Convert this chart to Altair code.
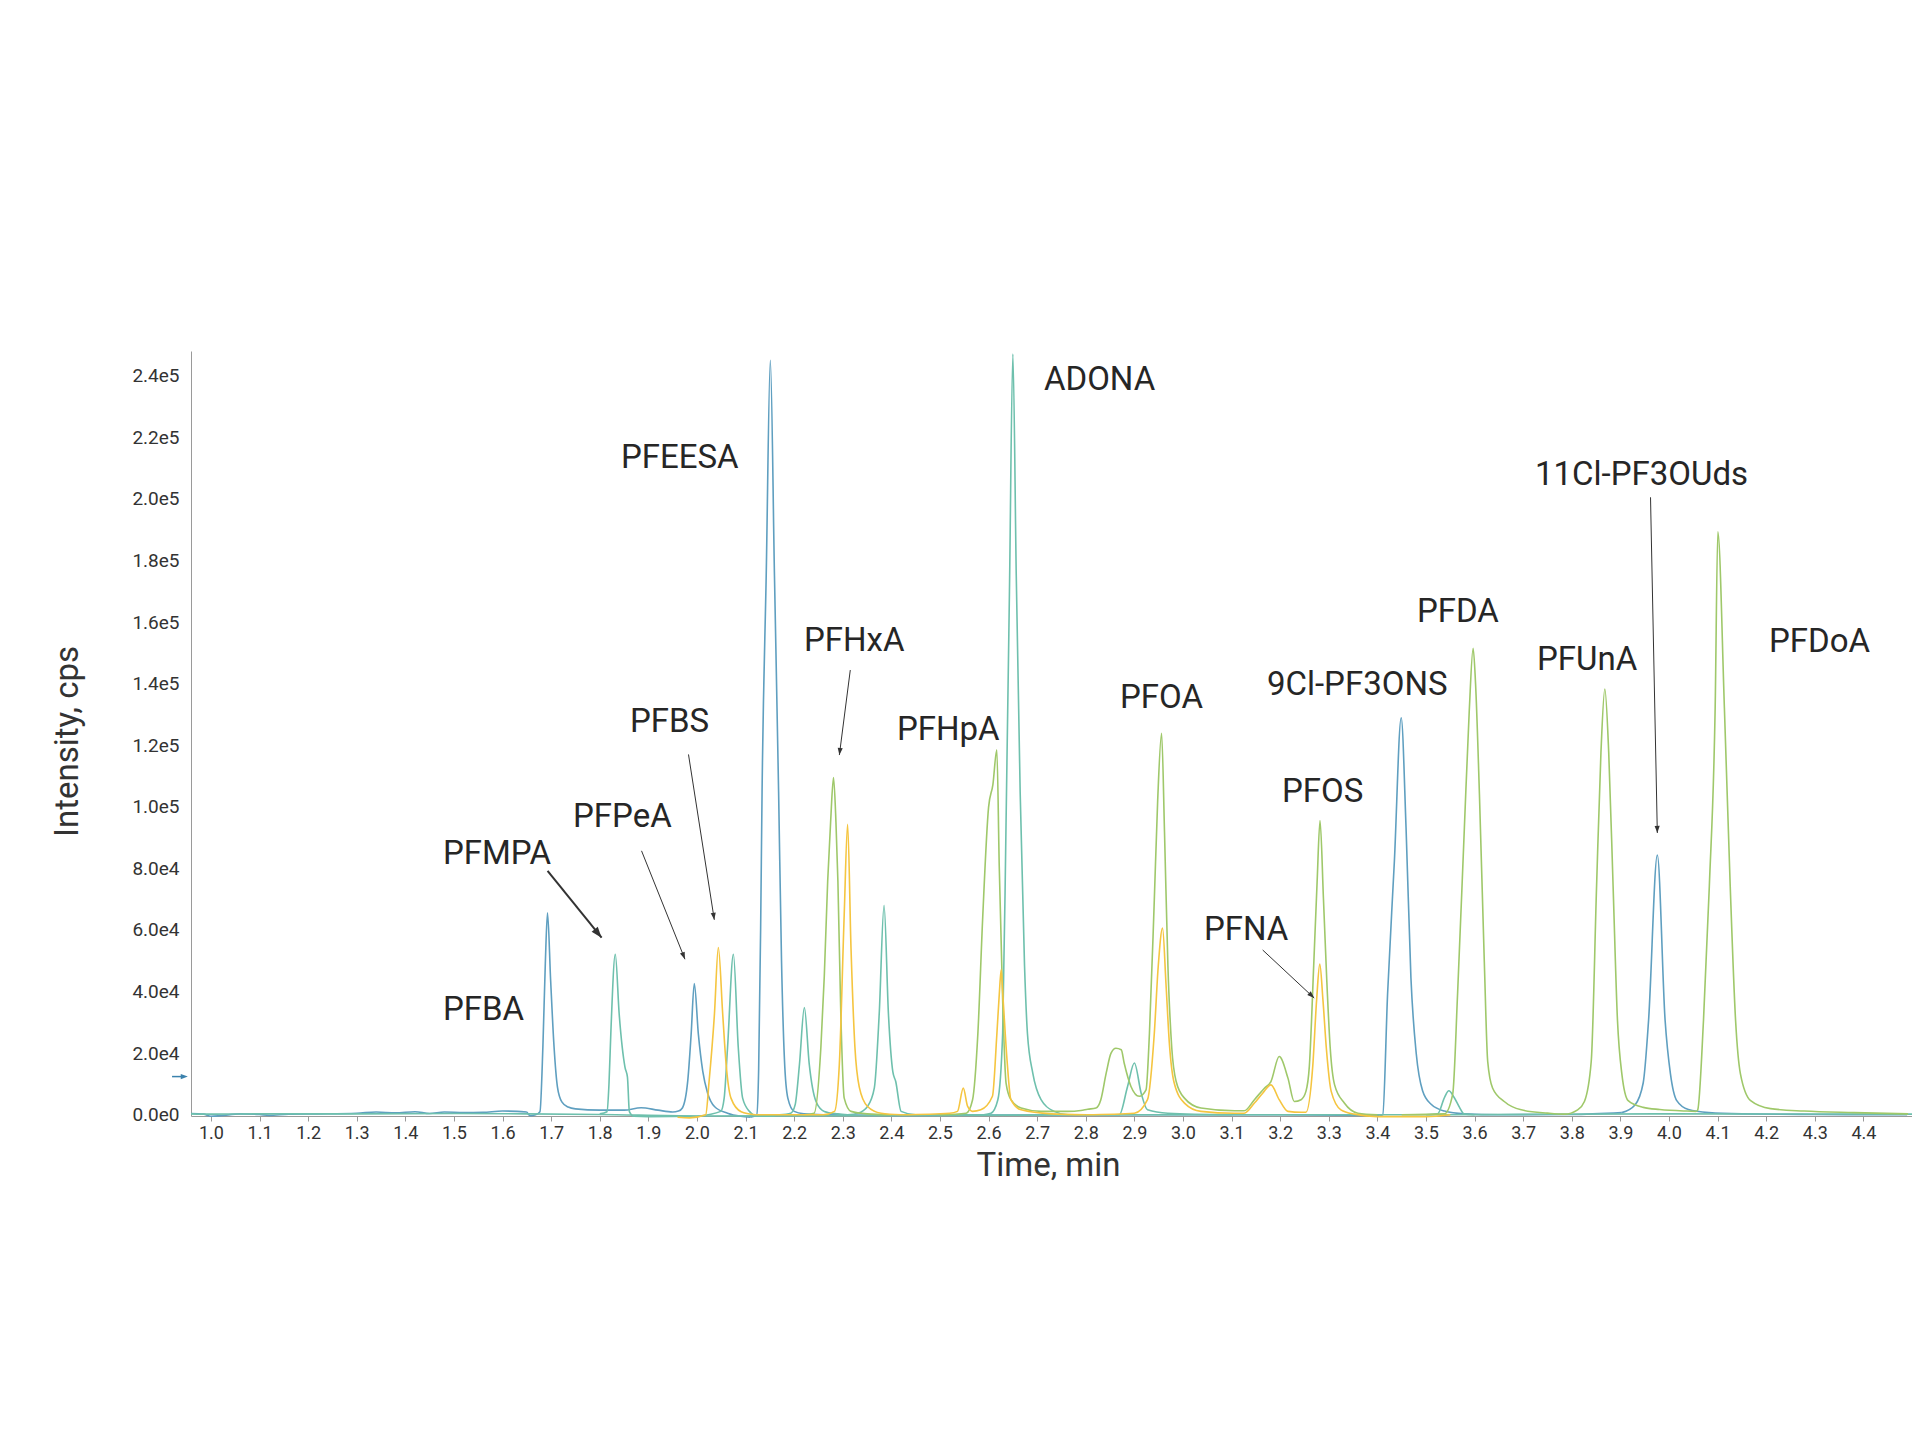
import math
import altair as alt
import pandas as pd

# ---------------- axes / layout values ----------------
X_DOMAIN = [0.959, 4.5]
Y_DOMAIN = [-400, 248000]
PLOT_W = 1721
PLOT_H = 765

X_TICKS = [1.0, 1.1, 1.2, 1.3, 1.4, 1.5, 1.6, 1.7, 1.8, 1.9,
           2.0, 2.1, 2.2, 2.3, 2.4, 2.5, 2.6, 2.7, 2.8, 2.9,
           3.0, 3.1, 3.2, 3.3, 3.4, 3.5, 3.6, 3.7, 3.8, 3.9,
           4.0, 4.1, 4.2, 4.3, 4.4]
Y_TICKS = [0, 20000, 40000, 60000, 80000, 100000, 120000, 140000,
           160000, 180000, 200000, 220000, 240000]

GROUPS = ["blue", "teal", "green", "yellow"]
GROUP_COLORS = ["#5f9fc0", "#6ec0ad", "#9fc86a", "#f5c540"]

# ---------------- chromatogram traces (time, intensity) ----------------
BLUE_BASE_T = [0.959, 0.985, 1.0, 1.02, 1.06, 1.1, 1.12, 1.16, 1.22, 1.3,
               1.34, 1.38, 1.42, 1.45, 1.48, 1.52, 1.56, 1.6, 1.63, 1.65]
BLUE_BASE_I = [400, 200, -500, -300, 300, 100, -200, 200, 300, 500,
               900, 600, 1000, 400, 900, 700, 800, 1200, 1100, 900]

BLUE_PFBA_T = [1.65, 1.657, 1.668, 1.677, 1.683, 1.688, 1.6925, 1.699, 1.706, 1.713,
               1.722, 1.735, 1.75, 1.80, 1.85, 1.885, 1.92, 1.95, 1.962, 1.970,
               1.981, 1.988, 1.9945, 2.003, 2.012, 2.022, 2.036, 2.063, 2.09, 2.11]
BLUE_PFBA_I = [900, -300, 0, 1000, 22000, 49000, 65600, 43500, 22000, 9000,
               4200, 2500, 1900, 1500, 1500, 2300, 1500, 900, 1200, 2200,
               10900, 26000, 42600, 26000, 14100, 7000, 2700, 500, -500, -800]

BLUE_PFEESA_T = [2.11, 2.123, 2.127, 2.131, 2.134, 2.1425, 2.151, 2.1595, 2.168, 2.174,
                 2.18, 2.187, 2.2, 2.22, 2.26, 2.4, 2.8, 3.2, 3.405]
BLUE_PFEESA_I = [-800, 0, 15000, 60000, 105000, 175000, 245000, 175000, 105000, 50000,
                 18000, 5400, 1100, 300, 0, -200, 0, 0, -300]

BLUE_9CL_T = [3.405, 3.411, 3.421, 3.435, 3.449, 3.459, 3.469, 3.480, 3.493, 3.510,
              3.538, 3.579, 3.65, 3.80, 3.903]
BLUE_9CL_I = [-300, 0, 39200, 82400, 128900, 93200, 44600, 19800, 7800, 3500,
              1200, 300, 0, 100, 700]

BLUE_11CL_T = [3.903, 3.930, 3.947, 3.958, 3.976, 3.992, 4.003, 4.016, 4.040, 4.082,
               4.15, 4.3, 4.49]
BLUE_11CL_I = [700, 3200, 10400, 30700, 84300, 30700, 13300, 4600, 1700, 700,
               300, 100, 0]

TEAL_BASE_T = [0.959, 1.0, 1.1, 1.3, 1.5, 1.65, 1.8, 2.0, 2.5, 3.0, 3.5, 4.0, 4.5]
TEAL_BASE_I = [300, 200, 300, 300, 400, 300, 100, -400, -200, 0, 0, 300, 200]

TEAL_PFMPA_T = [1.80, 1.815, 1.819, 1.823, 1.832, 1.840, 1.852, 1.857, 1.861, 1.87, 1.90, 2.0]
TEAL_PFMPA_I = [300, 1000, 10000, 27300, 52100, 32700, 15400, 12200, 1000, -500, -600, -500]

TEAL_P2_T = [2.0, 2.049, 2.056, 2.063, 2.075, 2.085, 2.094, 2.108, 2.125, 2.16]
TEAL_P2_I = [-500, 1100, 5400, 21900, 52100, 21900, 5400, 1100, -500, -500]

TEAL_P3_T = [2.17, 2.193, 2.202, 2.211, 2.221, 2.231, 2.245, 2.262, 2.29, 2.31]
TEAL_P3_I = [0, 500, 3200, 16500, 34800, 16500, 4300, 1100, 300, 0]

TEAL_P4_T = [2.31, 2.331, 2.351, 2.365, 2.375, 2.385, 2.394, 2.403, 2.409, 2.420, 2.45, 2.59]
TEAL_P4_I = [0, 500, 2700, 8700, 32700, 68000, 32700, 14000, 10800, 1100, 0, 0]

TEAL_ADONA_T = [2.59, 2.605, 2.619, 2.629, 2.636, 2.643, 2.650, 2.657, 2.665, 2.674,
                2.680, 2.691, 2.708, 2.735, 2.763, 2.85]
TEAL_ADONA_I = [0, 500, 4800, 26400, 95000, 170000, 247000, 175000, 105000, 48500,
                26400, 13500, 4900, 1100, 0, 0]

TEAL_P6_T = [2.85, 2.869, 2.886, 2.900, 2.914, 2.927, 2.969, 3.1]
TEAL_P6_I = [0, 0, 9200, 16800, 7000, 1600, 500, 0]

TEAL_P7_T = [3.50, 3.524, 3.538, 3.547, 3.558, 3.569, 3.578, 3.60]
TEAL_P7_I = [0, 300, 5600, 7800, 5600, 2400, 300, 0]

GREEN_PFHXA_T = [2.22, 2.241, 2.255, 2.262, 2.269, 2.275, 2.281, 2.286, 2.290, 2.296,
                 2.303, 2.317, 2.35, 2.40]
GREEN_PFHXA_I = [0, 500, 21900, 45000, 75900, 95000, 109500, 95000, 75900, 32700,
                 5400, 1100, 300, 0]

GREEN_MID_T = [2.50, 2.554, 2.567, 2.578, 2.588, 2.600, 2.609, 2.617, 2.622, 2.629,
               2.636, 2.646, 2.667, 2.708, 2.763, 2.790, 2.804, 2.821, 2.831, 2.842,
               2.852, 2.862, 2.873, 2.879, 2.893, 2.910, 2.924, 2.931, 2.941, 2.948,
               2.956, 2.962, 2.969, 2.977, 2.986, 3.003, 3.037, 3.106, 3.126, 3.147,
               3.168, 3.181, 3.198, 3.216, 3.229, 3.243, 3.253, 3.260, 3.269, 3.276,
               3.282, 3.289, 3.296, 3.303, 3.312, 3.332, 3.360, 3.40]
GREEN_MID_I = [0, 500, 4800, 26400, 64200, 99800, 107300, 118500, 80600, 37300,
               10300, 4900, 2200, 1100, 1100, 1400, 1800, 2200, 4900, 13500,
               20000, 21600, 21100, 16800, 9200, 6000, 8100, 26400, 69700, 102200,
               123900, 91900, 48500, 21600, 10800, 5400, 2200, 1300, 1300, 4900,
               8700, 10800, 18900, 11900, 4300, 4900, 7600, 15700, 48500, 75600,
               95500, 70300, 43300, 21600, 9700, 3800, 500, 0]

GREEN_LATE_T = [3.45, 3.538, 3.555, 3.565, 3.579, 3.589, 3.597, 3.602, 3.610, 3.620,
                3.627, 3.637, 3.661, 3.696, 3.750, 3.785, 3.812, 3.826, 3.840, 3.851,
                3.860, 3.868, 3.876, 3.885, 3.894, 3.903, 3.916, 3.947, 3.981, 4.037,
                4.056]
GREEN_LATE_I = [0, 300, 6700, 39200, 93200, 131000, 151500, 140000, 104000, 49800,
                17300, 8700, 4300, 1600, 540, 200, 1600, 4300, 17300, 74200,
                117600, 138200, 117600, 74200, 30700, 13300, 4600, 2400, 1700, 1200,
                1100]

GREEN_PFDOA_T = [4.056, 4.059, 4.071, 4.083, 4.095, 4.1005, 4.114, 4.126, 4.137, 4.147,
                 4.168, 4.209, 4.278, 4.381, 4.492]
GREEN_PFDOA_I = [1100, 1500, 30700, 74200, 132100, 189300, 132100, 74200, 30700, 13300,
                 4600, 2000, 1200, 700, 300]

YELLOW_1_T = [1.96, 1.985, 2.018, 2.025, 2.036, 2.044, 2.053, 2.060, 2.070, 2.091, 2.12]
YELLOW_1_I = [-800, -1000, 0, 10900, 32700, 54300, 32700, 16500, 5400, 1000, 0]

YELLOW_2_T = [2.12, 2.26, 2.283, 2.293, 2.303, 2.310, 2.317, 2.325, 2.334, 2.351, 2.379, 2.42]
YELLOW_2_I = [0, 0, 1100, 16500, 65000, 94300, 54000, 22000, 9000, 2700, 500, 0]

YELLOW_3_T = [2.42, 2.52, 2.536, 2.548, 2.557, 2.567, 2.584, 2.608, 2.617, 2.622,
              2.626, 2.630, 2.638, 2.646, 2.667, 2.729, 2.80]
YELLOW_3_I = [0, 500, 1100, 8650, 2700, 1100, 1600, 6000, 26000, 39000,
              47050, 37300, 17800, 4900, 1600, 300, 0]

YELLOW_4_T = [2.80, 2.900, 2.927, 2.941, 2.949, 2.958, 2.965, 2.972, 2.982, 3.003,
              3.037, 3.106, 3.126, 3.147, 3.164, 3.181, 3.198, 3.216, 3.243, 3.253,
              3.267, 3.275, 3.2815, 3.288, 3.295, 3.305, 3.325, 3.353, 3.40, 3.50,
              3.55]
YELLOW_4_I = [0, 500, 4900, 26400, 48000, 60600, 42700, 23200, 10300, 3800,
              1100, 500, 500, 3800, 7000, 9700, 4900, 1100, 800, 800,
              15700, 37300, 48900, 37300, 21600, 7600, 1600, 200, -600, -600,
              0]

# ---------------- annotations ----------------
LABELS = ["PFBA", "PFMPA", "PFPeA", "PFBS", "PFEESA", "PFHxA", "PFHpA", "ADONA",
          "PFOA", "9Cl-PF3ONS", "PFOS", "PFNA", "PFDA", "PFUnA", "11Cl-PF3OUds", "PFDoA"]
LABEL_T = [1.4774, 1.4774, 1.7449, 1.8621, 1.8436, 2.2202, 2.4115, 2.7140,
           2.8704, 3.1728, 3.2037, 3.0432, 3.4815, 3.7284, 3.7243, 4.2058]
LABEL_I = [30800, 81400, 93500, 124200, 209900, 150700, 121700, 235300,
           132000, 136300, 101700, 56800, 160100, 144400, 204600, 150200]

ARROW_LABEL = ["PFMPA", "PFPeA", "PFBS", "PFHxA", "PFNA", "11Cl-PF3OUds"]
ARROW_T0 = [1.6927, 1.886, 1.9826, 2.3155, 3.164, 3.962]
ARROW_I0 = [79200, 85700, 117000, 144400, 53500, 200500]
ARROW_T1 = [1.8038, 1.9753, 2.0357, 2.293, 3.270, 3.976]
ARROW_I1 = [57500, 50500, 63300, 116800, 37900, 91500]
BOLD_ARROWS = ["PFMPA"]

# small marker arrow left of the y axis
MARKER_T = [0.920, 0.9425, 0.9525]
MARKER_I = [12400]

# ---------------- build tables ----------------
TRACES = [
    ("blue_base", "blue", BLUE_BASE_T, BLUE_BASE_I),
    ("blue_pfba", "blue", BLUE_PFBA_T, BLUE_PFBA_I),
    ("blue_pfeesa", "blue", BLUE_PFEESA_T, BLUE_PFEESA_I),
    ("blue_9cl", "blue", BLUE_9CL_T, BLUE_9CL_I),
    ("blue_11cl", "blue", BLUE_11CL_T, BLUE_11CL_I),
    ("teal_base", "teal", TEAL_BASE_T, TEAL_BASE_I),
    ("teal_pfmpa", "teal", TEAL_PFMPA_T, TEAL_PFMPA_I),
    ("teal_p2", "teal", TEAL_P2_T, TEAL_P2_I),
    ("teal_p3", "teal", TEAL_P3_T, TEAL_P3_I),
    ("teal_p4", "teal", TEAL_P4_T, TEAL_P4_I),
    ("teal_adona", "teal", TEAL_ADONA_T, TEAL_ADONA_I),
    ("teal_p6", "teal", TEAL_P6_T, TEAL_P6_I),
    ("teal_p7", "teal", TEAL_P7_T, TEAL_P7_I),
    ("green_pfhxa", "green", GREEN_PFHXA_T, GREEN_PFHXA_I),
    ("green_mid", "green", GREEN_MID_T, GREEN_MID_I),
    ("green_late", "green", GREEN_LATE_T, GREEN_LATE_I),
    ("green_pfdoa", "green", GREEN_PFDOA_T, GREEN_PFDOA_I),
    ("yellow_1", "yellow", YELLOW_1_T, YELLOW_1_I),
    ("yellow_2", "yellow", YELLOW_2_T, YELLOW_2_I),
    ("yellow_3", "yellow", YELLOW_3_T, YELLOW_3_I),
    ("yellow_4", "yellow", YELLOW_4_T, YELLOW_4_I),
]

rows = []
for k, (name, grp, ts, vs) in enumerate(TRACES):
    assert len(ts) == len(vs), name
    for t, v in zip(ts, vs):
        rows.append({"series": f"{k:02d}_{name}", "group": grp, "t": t, "I": v})
df_lines = pd.DataFrame(rows)

df_labels = pd.DataFrame({"label": LABELS, "t": LABEL_T, "I": LABEL_I})

px_t = PLOT_W / (X_DOMAIN[1] - X_DOMAIN[0])
px_i = PLOT_H / (Y_DOMAIN[1] - Y_DOMAIN[0])


def head_angle(t0, i0, t1, i1):
    dx = (t1 - t0) * px_t
    dy = -(i1 - i0) * px_i
    return math.degrees(math.atan2(dx, -dy)) % 360


df_arrows = pd.DataFrame({
    "label": ARROW_LABEL,
    "t": ARROW_T0, "I": ARROW_I0, "t1": ARROW_T1, "I1": ARROW_I1,
})
df_arrows["angle"] = [head_angle(a, b, c, d) for a, b, c, d in
                      zip(ARROW_T0, ARROW_I0, ARROW_T1, ARROW_I1)]
df_arrows["bold"] = [lab in BOLD_ARROWS for lab in ARROW_LABEL]

df_marker = pd.DataFrame({"t": [MARKER_T[0]], "t1": [MARKER_T[1]],
                          "tt": [MARKER_T[2]], "I": MARKER_I, "angle": [90.0]})

# ---------------- encodings ----------------
XS = alt.Scale(domain=X_DOMAIN, nice=False, zero=False)
YS = alt.Scale(domain=Y_DOMAIN, nice=False, zero=False)

x_axis = alt.Axis(
    values=X_TICKS, format=".1f", title="Time, min", grid=False,
    domainColor="#9a9a9a", domainWidth=1, tickColor="#9a9a9a", tickSize=5, tickWidth=1,
    labelFont="Roboto", labelFontSize=18, labelColor="#333333", labelPadding=3,
    labelOverlap=False, labelFlush=False,
    titleFont="Roboto", titleFontSize=33, titleFontWeight="normal", titleColor="#333333",
    titleX=857, titleY=59, titleAlign="center", titleBaseline="alphabetic",
)
y_axis = alt.Axis(
    values=Y_TICKS, labelExpr="replace(format(datum.value, '.1e'), '+', '')",
    title="Intensity, cps", grid=False, ticks=False, tickSize=0,
    domainColor="#9a9a9a", domainWidth=1,
    labelFont="Roboto", labelFontSize=19, labelColor="#333333", labelPadding=12,
    labelOverlap=False,
    titleFont="Roboto", titleFontSize=33, titleFontWeight="normal", titleColor="#333333",
    titleAngle=270, titleX=-114, titleY=390, titleAlign="center", titleBaseline="alphabetic",
)


def X(field):
    return alt.X(field, scale=XS, axis=x_axis)


def Y(field):
    return alt.Y(field, scale=YS, axis=y_axis)


lines = alt.Chart(df_lines).mark_line(interpolate="monotone", strokeWidth=1.6).encode(
    x=X("t:Q"),
    y=Y("I:Q"),
    color=alt.Color("group:N", scale=alt.Scale(domain=GROUPS, range=GROUP_COLORS), legend=None),
    detail="series:N",
)

texts = alt.Chart(df_labels).mark_text(
    align="left", baseline="alphabetic", font="Roboto", fontSize=33, color="#262626"
).encode(
    x=X("t:Q"),
    y=Y("I:Q"),
    text="label:N",
)

HEAD = "M0,0L-0.36,1L0.36,1Z"

arrow_lines = alt.Chart(df_arrows).mark_rule(color="#333333").encode(
    x=X("t:Q"),
    y=Y("I:Q"),
    x2="t1:Q",
    y2="I1:Q",
    strokeWidth=alt.condition("datum.bold", alt.value(2.0), alt.value(1.0)),
)

arrow_heads = alt.Chart(df_arrows).mark_point(
    shape=HEAD, filled=True, color="#333333", opacity=1, strokeWidth=0
).encode(
    x=X("t1:Q"),
    y=Y("I1:Q"),
    angle=alt.Angle("angle:Q", scale=None),
    size=alt.condition("datum.bold", alt.value(480), alt.value(200)),
)

marker_line = alt.Chart(df_marker).mark_rule(color="#3b82ad", strokeWidth=1.5).encode(
    x=X("t:Q"),
    x2="t1:Q",
    y=Y("I:Q"),
)
marker_head = alt.Chart(df_marker).mark_point(
    shape=HEAD, filled=True, color="#3b82ad", opacity=1, strokeWidth=0, size=200
).encode(
    x=X("tt:Q"),
    y=Y("I:Q"),
    angle=alt.Angle("angle:Q", scale=None),
)

chart = alt.layer(
    lines, texts, arrow_lines, arrow_heads, marker_line, marker_head
).properties(
    width=PLOT_W,
    height=PLOT_H,
    padding={"left": 183, "top": 343, "right": 0, "bottom": 120},
    autosize=alt.AutoSizeParams(type="none"),
    background="white",
).configure_view(stroke=None)

chart.save("out.html", embed_options={"renderer": "svg", "actions": False})
